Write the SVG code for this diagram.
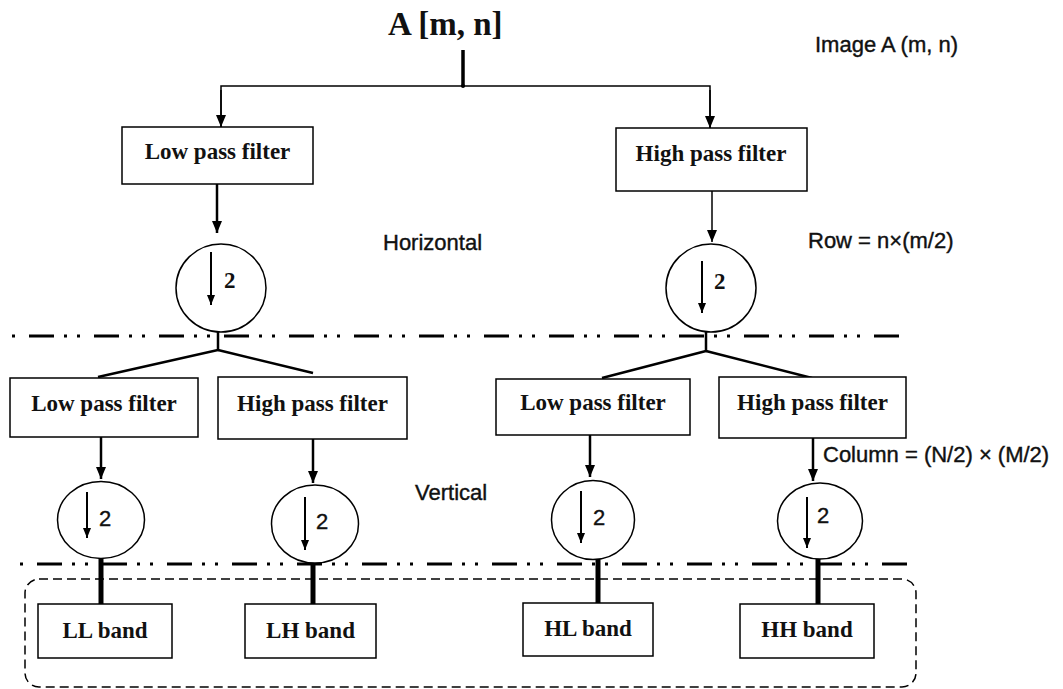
<svg xmlns="http://www.w3.org/2000/svg" width="1063" height="689" viewBox="0 0 1063 689">
<style>
.box{fill:#fff;stroke:#000;stroke-width:1.5}
.circ{fill:#fff;stroke:#000;stroke-width:1.5}
.ser{font-family:"Liberation Serif","Times New Roman",serif;font-weight:bold;fill:#111}
.fl{font-size:23px;text-anchor:middle}
.san{font-family:"Liberation Sans",Arial,sans-serif;font-size:22px;fill:#111;stroke:#111;stroke-width:0.4}
.thin{stroke:#000;stroke-width:1.5;fill:none}
.med{stroke:#000;stroke-width:2.5;fill:none}
.thick{stroke:#000;stroke-width:5;fill:none}
.dd{stroke:#000;stroke-width:3;fill:none;stroke-dasharray:25 10 3 10 3 14}
.inner{stroke:#000;stroke-width:2;fill:none}
</style>
<defs>
<marker id="ah" viewBox="0 0 12 10" refX="12" refY="5" markerWidth="12" markerHeight="10" markerUnits="userSpaceOnUse" orient="auto"><path d="M0,0 L12,5 L0,10 z" fill="#000"/></marker>
<marker id="ahs" viewBox="0 0 10 8" refX="10" refY="4" markerWidth="10" markerHeight="8" markerUnits="userSpaceOnUse" orient="auto"><path d="M0,0 L10,4 L0,8 z" fill="#000"/></marker>
</defs>

<g id="separators">
<line class="dd" x1="12" y1="336" x2="907" y2="336" stroke-dashoffset="48"/>
<line class="dd" x1="20" y1="564" x2="915" y2="564" stroke-dashoffset="48"/>
<rect id="output-group" x="25" y="579" width="891" height="108" rx="14" fill="none" stroke="#000" stroke-width="1.5" stroke-dasharray="9 5"/>
</g>

<g id="connectors">
<line x1="463" y1="50" x2="463" y2="87" stroke="#000" stroke-width="3.5"/>
<circle cx="463" cy="86" r="2" fill="#000"/>
<polyline class="thin" points="221,127 221,86 710,86 710,128"/>
<line class="thin" x1="221" y1="90" x2="221" y2="127" marker-end="url(#ah)"/>
<line class="thin" x1="710" y1="90" x2="710" y2="128" marker-end="url(#ah)"/>
<line class="med" x1="217" y1="184" x2="217" y2="233" marker-end="url(#ah)"/>
<line class="thin" x1="712" y1="191" x2="712" y2="242" marker-end="url(#ah)"/>
<polyline class="med" points="218,332 218,350 98,377"/>
<line class="med" x1="218" y1="350" x2="313" y2="373"/>
<polyline class="med" points="706,332 706,351 602,378"/>
<line class="med" x1="706" y1="351" x2="812" y2="378"/>
<line class="med" x1="101" y1="437" x2="101" y2="479" marker-end="url(#ah)"/>
<line class="med" x1="313" y1="439" x2="313" y2="483" marker-end="url(#ah)"/>
<line class="med" x1="590" y1="435" x2="590" y2="477" marker-end="url(#ah)"/>
<line class="med" x1="813" y1="438" x2="813" y2="481" marker-end="url(#ah)"/>
<line class="thick" x1="101" y1="559" x2="101" y2="604"/>
<line class="thick" x1="313" y1="563" x2="313" y2="604"/>
<line class="thick" x1="598" y1="560" x2="598" y2="603"/>
<line class="thick" x1="818" y1="559" x2="818" y2="604"/>
</g>

<g id="image-a">
<text class="ser" x="388" y="35" font-size="33">A [m, n]</text>
</g>
<text class="san" x="815" y="52">Image A (m, n)</text>
<text class="san" x="383" y="250">Horizontal</text>
<text class="san" x="808" y="248">Row = n×(m/2)</text>
<text class="san" x="415" y="500">Vertical</text>
<text class="san" x="823" y="462">Column = (N/2) × (M/2)</text>

<g id="lpf-row">
<rect class="box" x="122" y="127" width="191" height="57"/>
<text class="ser fl" x="217.5" y="159">Low pass filter</text>
</g>
<g id="hpf-row">
<rect class="box" x="616" y="128" width="191" height="63"/>
<text class="ser fl" x="711" y="161">High pass filter</text>
</g>

<g id="down-row-l">
<ellipse class="circ" cx="221" cy="288" rx="45" ry="44"/>
<line class="inner" x1="211" y1="252" x2="211" y2="305" marker-end="url(#ahs)"/>
<text class="ser" x="224" y="288" font-size="23">2</text>
</g>
<g id="down-row-h">
<ellipse class="circ" cx="711" cy="288" rx="45" ry="44"/>
<line class="inner" x1="702" y1="261" x2="702" y2="313" marker-end="url(#ahs)"/>
<text class="ser" x="714" y="289" font-size="23">2</text>
</g>

<g id="lpf-col-l">
<rect class="box" x="10" y="378" width="188" height="59"/>
<text class="ser fl" x="104" y="411">Low pass filter</text>
</g>
<g id="hpf-col-l">
<rect class="box" x="218" y="377" width="189" height="62"/>
<text class="ser fl" x="312.5" y="411">High pass filter</text>
</g>
<g id="lpf-col-h">
<rect class="box" x="496" y="379" width="194" height="56"/>
<text class="ser fl" x="593" y="410">Low pass filter</text>
</g>
<g id="hpf-col-h">
<rect class="box" x="719" y="377" width="187" height="61"/>
<text class="ser fl" x="812.5" y="410">High pass filter</text>
</g>

<g id="down-ll">
<ellipse class="circ" cx="101" cy="520" rx="43.5" ry="38.5"/>
<line class="inner" x1="87" y1="492" x2="87" y2="538" marker-end="url(#ahs)"/>
<text class="san" x="99" y="526" font-size="18">2</text>
</g>
<g id="down-lh">
<ellipse class="circ" cx="315" cy="524" rx="43.5" ry="39"/>
<line class="inner" x1="305" y1="497" x2="305" y2="550" marker-end="url(#ahs)"/>
<text class="san" x="316" y="529" font-size="18">2</text>
</g>
<g id="down-hl">
<ellipse class="circ" cx="593" cy="520" rx="41.5" ry="39.5"/>
<line class="inner" x1="581" y1="491" x2="581" y2="543" marker-end="url(#ahs)"/>
<text class="san" x="593" y="525" font-size="18">2</text>
</g>
<g id="down-hh">
<ellipse class="circ" cx="820" cy="521" rx="42.5" ry="38"/>
<line class="inner" x1="807" y1="497" x2="807" y2="548" marker-end="url(#ahs)"/>
<text class="san" x="817" y="523" font-size="18">2</text>
</g>

<g id="ll-band">
<rect class="box" x="38" y="604" width="134" height="54"/>
<text class="ser fl" x="105" y="638">LL band</text>
</g>
<g id="lh-band">
<rect class="box" x="245" y="604" width="131" height="54"/>
<text class="ser fl" x="310.5" y="638">LH band</text>
</g>
<g id="hl-band">
<rect class="box" x="523" y="603" width="130" height="53"/>
<text class="ser fl" x="588" y="636">HL band</text>
</g>
<g id="hh-band">
<rect class="box" x="740" y="604" width="134" height="54"/>
<text class="ser fl" x="807" y="637">HH band</text>
</g>
</svg>
